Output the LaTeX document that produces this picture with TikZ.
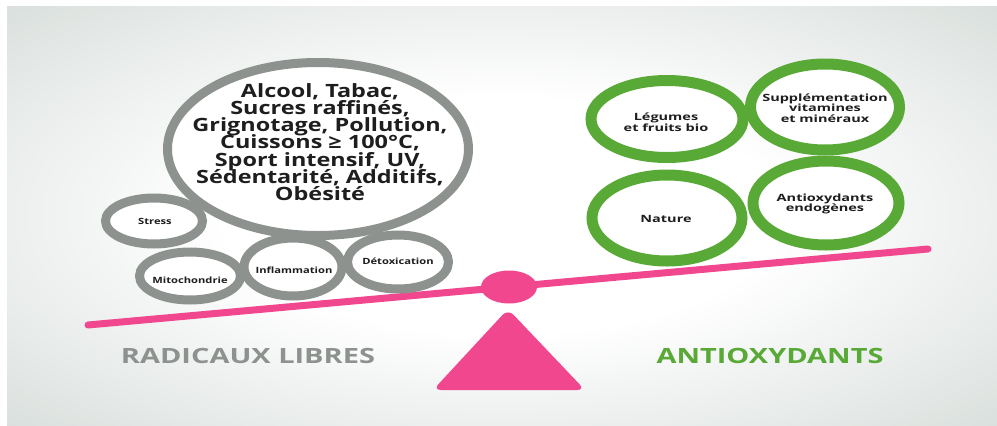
\documentclass[tikz,border=0pt]{standalone}
\usepackage{fontspec}
\usepackage{graphicx}
\setmainfont{Open Sans}
\newfontfamily\osbig[FakeStretch=1.28]{Open Sans}
\newfontfamily\ossmall[FakeStretch=1.3]{Open Sans}
\newfontfamily\oswide[FakeStretch=1.45]{Open Sans}
\newfontfamily\oshead[FakeStretch=1.38]{Open Sans}
\usetikzlibrary{shapes.geometric}

\definecolor{ringgray}{HTML}{8D928E}
\definecolor{ringgreen}{HTML}{58A936}
\definecolor{beampink}{HTML}{F1478E}
\definecolor{labelink}{HTML}{1E1E1E}
\definecolor{paneledge}{HTML}{D9DFDC}

% panel shading: white centre fading to a pale grey-green rim
\pgfdeclareradialshading{panelglow}{\pgfpoint{0bp}{0bp}}{%
  color(0bp)=(white); color(14bp)=(white); color(36bp)=(paneledge); color(50bp)=(paneledge)}

\newcommand{\tightlines}{\lineskiplimit=-100pt\relax}

\tikzset{
  ring/.style={ellipse, draw, fill=white, inner sep=0pt},
  grayring/.style={ring, draw=ringgray, line width=9pt},
  greenring/.style={ring, draw=ringgreen, line width=11pt},
  bigtext/.style={align=center, text=labelink, inner sep=0pt,
    font=\osbig\bfseries\fontsize{18.3}{17.2}\selectfont\tightlines},
  smalltext/.style={align=center, text=labelink, inner sep=0pt,
    font=\ossmall\bfseries\fontsize{8.6}{10}\selectfont},
  greentext/.style={align=center, text=labelink, inner sep=0pt,
    font=\oswide\bfseries\fontsize{10}{10.5}\selectfont\tightlines},
  heading/.style={inner sep=0pt, font=\oshead\bfseries\fontsize{21}{24}\selectfont},
}

\begin{document}
\begin{tikzpicture}[x=1pt, y=-1pt]
  % page and shaded panel
  \fill[white] (0,0) rectangle (997,426);
  \useasboundingbox (0,0) rectangle (997,426);
  \shade[shading=panelglow] (7,6) rectangle (997,426);

  % beam of the balance
  \coordinate (beamL) at (88,325);
  \coordinate (beamR) at (928,249);
  \draw[beampink, line width=7pt, line cap=round] (beamL) -- (beamR);

  % pivot and stand
  \node[ellipse, fill=beampink, minimum width=56pt, minimum height=33pt, inner sep=0pt] (pivot) at (509,287) {};
  \coordinate (apex) at (508,309);
  \coordinate (baseL) at (433,390);
  \coordinate (baseR) at (585,390);
  \fill[beampink, rounded corners=8pt] (apex) -- (baseR) -- (baseL) -- cycle;

  % free radical sources
  \node[grayring, minimum width=301pt, minimum height=173pt] (big) at (318,149) {};
  \node[grayring, minimum width=97pt, minimum height=46pt] (stress) at (154,221) {};
  \node[grayring, minimum width=101pt, minimum height=48pt] (mito) at (190,276) {};
  \node[grayring, minimum width=98pt, minimum height=58pt] (infl) at (293,267) {};
  \node[grayring, minimum width=101pt, minimum height=54pt] (detox) at (398,262) {};

  \node[bigtext] (bigT) at (320,142) {Alcool, Tabac,\\Sucres raffinés,\\Grignotage, Pollution,\\Cuissons ≥ 100°C,\\Sport intensif, UV,\\Sédentarité, Additifs,\\Obésité};
  \node[smalltext] (stressT) at (155,221) {Stress};
  \node[smalltext] (mitoT) at (190,280) {Mitochondrie};
  \node[smalltext] (inflT) at (294,270) {Inflammation};
  \node[smalltext] (detoxT) at (398,261) {Détoxication};

  % antioxidant sources
  \node[greenring, minimum width=152pt, minimum height=77pt] (leg) at (667,119) {};
  \node[greenring, minimum width=149pt, minimum height=86pt] (supp) at (825,107) {};
  \node[greenring, minimum width=150pt, minimum height=86pt] (nat) at (667,218) {};
  \node[greenring, minimum width=146pt, minimum height=84pt] (anti) at (826,203) {};

  \node[greentext] (legT) at (666,122) {Légumes\\et fruits bio};
  \node[greentext] (suppT) at (825,108) {Supplémentation\\vitamines\\et minéraux};
  \node[greentext] (natT) at (666,219) {Nature};
  \node[greentext] (antiT) at (825,204) {Antioxydants\\endogènes};

  % side headings
  \node[heading, text=ringgray] (radicaux) at (248,356) {RADICAUX LIBRES};
  \node[heading, text=ringgreen] (antiox) at (770,356) {ANTIOXYDANTS};
\end{tikzpicture}
\end{document}
